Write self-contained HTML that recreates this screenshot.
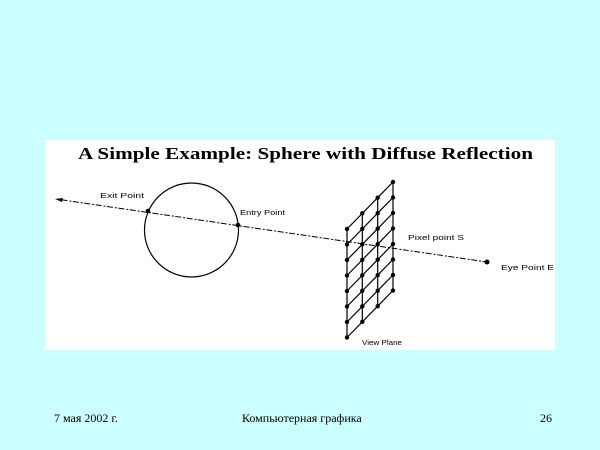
<!DOCTYPE html>
<html><head><meta charset="utf-8"><style>
html,body{margin:0;padding:0;background:#ccffff;}
body{width:600px;height:450px;position:relative;overflow:hidden;}
.f{position:absolute;top:411px;font-family:"Liberation Serif","Noto Serif CJK SC",serif;font-size:12px;color:#000;white-space:nowrap;}
</style></head><body>
<svg width="600" height="450" style="position:absolute;left:0;top:0" xmlns="http://www.w3.org/2000/svg">
<rect x="45" y="140" width="510" height="210" fill="#fff"/>
<text x="78" y="159" font-family="Liberation Serif,serif" font-weight="bold" font-size="17" textLength="455" lengthAdjust="spacingAndGlyphs">A Simple Example: Sphere with Diffuse Reflection</text>
<circle cx="191.5" cy="230" r="47" fill="none" stroke="#000" stroke-width="1.2"/>
<line x1="58" y1="199.3" x2="487" y2="262" stroke="#000" stroke-width="1" stroke-dasharray="2,1.5,6,2"/>
<polygon points="55,199 63,198 62,202" fill="#000"/>
<circle cx="148" cy="211" r="2.3" fill="#000"/>
<circle cx="238" cy="225" r="2.3" fill="#000"/>
<circle cx="487" cy="262" r="2.5" fill="#000"/>
<g stroke="#000" stroke-width="1.2">
<line x1="347" y1="229" x2="347" y2="337.5"/>
<line x1="362.3" y1="213.3" x2="362.3" y2="321.8"/>
<line x1="377.7" y1="197.7" x2="377.7" y2="306.2"/>
<line x1="393" y1="182" x2="393" y2="290.5"/>
<line x1="347" y1="229" x2="393" y2="182"/>
<line x1="347" y1="244.5" x2="393" y2="197.5"/>
<line x1="347" y1="260" x2="393" y2="213"/>
<line x1="347" y1="275.5" x2="393" y2="228.5"/>
<line x1="347" y1="291" x2="393" y2="244"/>
<line x1="347" y1="306.5" x2="393" y2="259.5"/>
<line x1="347" y1="322" x2="393" y2="275"/>
<line x1="347" y1="337.5" x2="393" y2="290.5"/>
</g>
<g fill="#000">
<circle cx="347" cy="229" r="2.2"/><circle cx="347" cy="244.5" r="2.2"/><circle cx="347" cy="260" r="2.2"/><circle cx="347" cy="275.5" r="2.2"/><circle cx="347" cy="291" r="2.2"/><circle cx="347" cy="306.5" r="2.2"/><circle cx="347" cy="322" r="2.2"/><circle cx="347" cy="337.5" r="2.2"/>
<circle cx="362.3" cy="213.3" r="2.2"/><circle cx="362.3" cy="228.8" r="2.2"/><circle cx="362.3" cy="244.3" r="2.2"/><circle cx="362.3" cy="259.8" r="2.2"/><circle cx="362.3" cy="275.3" r="2.2"/><circle cx="362.3" cy="290.8" r="2.2"/><circle cx="362.3" cy="306.3" r="2.2"/><circle cx="362.3" cy="321.8" r="2.2"/>
<circle cx="377.7" cy="197.7" r="2.2"/><circle cx="377.7" cy="213.2" r="2.2"/><circle cx="377.7" cy="228.7" r="2.2"/><circle cx="377.7" cy="244.2" r="2.2"/><circle cx="377.7" cy="259.7" r="2.2"/><circle cx="377.7" cy="275.2" r="2.2"/><circle cx="377.7" cy="290.7" r="2.2"/><circle cx="377.7" cy="306.2" r="2.2"/>
<circle cx="393" cy="182" r="2.2"/><circle cx="393" cy="197.5" r="2.2"/><circle cx="393" cy="213" r="2.2"/><circle cx="393" cy="228.5" r="2.2"/><circle cx="393" cy="244" r="2.2"/><circle cx="393" cy="259.5" r="2.2"/><circle cx="393" cy="275" r="2.2"/><circle cx="393" cy="290.5" r="2.2"/>
</g>
<g font-family="Liberation Sans,sans-serif" font-size="7.5" fill="#000">
<text x="100" y="198" textLength="44" lengthAdjust="spacingAndGlyphs">Exit Point</text>
<text x="240" y="215" textLength="45" lengthAdjust="spacingAndGlyphs">Entry Point</text>
<text x="408" y="240" textLength="56" lengthAdjust="spacingAndGlyphs">Pixel point S</text>
<text x="501" y="270" textLength="53" lengthAdjust="spacingAndGlyphs">Eye Point E</text>
<text x="362" y="345" textLength="40" lengthAdjust="spacingAndGlyphs">View Plane</text>
</g>
</svg>
<div class="f" style="left:54px">7 мая 2002 г.</div>
<div class="f" style="left:242px">Компьютерная графика</div>
<div class="f" style="left:540px">26</div>
</body></html>
